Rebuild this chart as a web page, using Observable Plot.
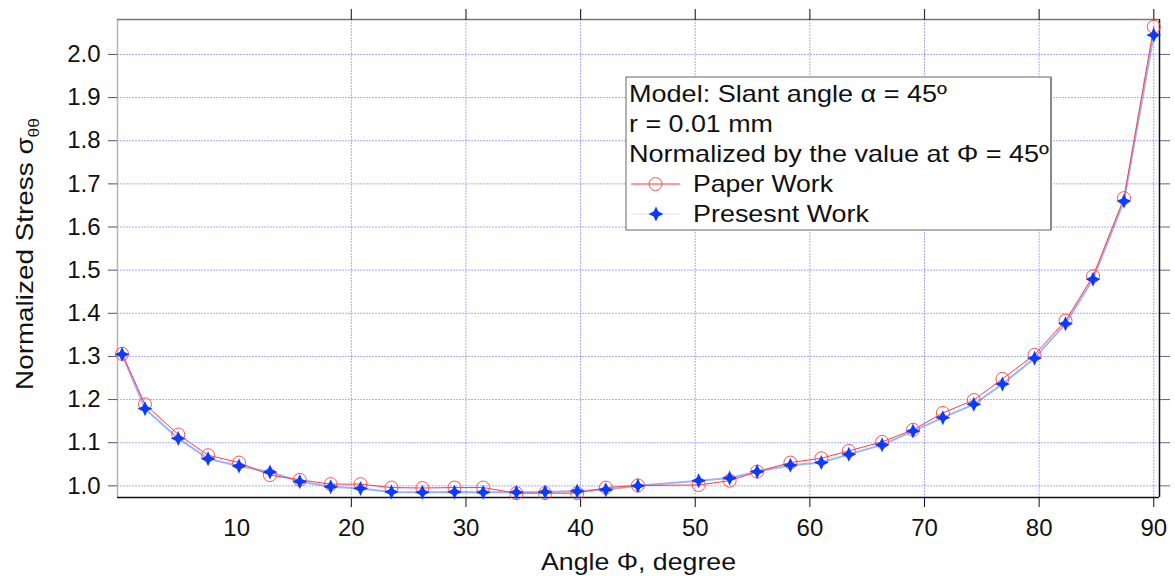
<!DOCTYPE html>
<html>
<head>
<meta charset="utf-8">
<script src="https://cdn.jsdelivr.net/npm/d3@7"></script>
<script src="https://cdn.jsdelivr.net/npm/@observablehq/plot@0.6"></script>
<style>
  html, body { margin: 0; padding: 0; background: #fff; }
  #chart { width: 1175px; height: 576px; }
</style>
</head>
<body>
<div id="chart"></div>
<script>
// ---- data ----
const angle = [0, 2.0, 4.9, 7.5, 10.2, 12.9, 15.5, 18.2, 20.8, 23.5, 26.2, 29.0, 31.5, 34.4, 36.9, 39.7, 42.2, 45.0,
               50.3, 53.0, 55.4, 58.3, 61.0, 63.4, 66.3, 69.0, 71.6, 74.3, 76.8, 79.6, 82.3, 84.7, 87.4, 90.0];
const paperStress = [1.306, 1.189, 1.119, 1.071, 1.054, 1.025, 1.014, 1.004, 1.004, 0.996, 0.995, 0.996, 0.996, 0.983, 0.983, 0.983, 0.996, 1.001,
                     1.002, 1.012, 1.033, 1.054, 1.064, 1.081, 1.102, 1.130, 1.169, 1.199, 1.248, 1.304, 1.383, 1.486, 1.667, 2.064];
const presentStress = [1.305, 1.179, 1.110, 1.063, 1.046, 1.032, 1.010, 0.998, 0.994, 0.986, 0.985, 0.986, 0.985, 0.985, 0.986, 0.988, 0.991, 1.000,
                       1.012, 1.018, 1.033, 1.048, 1.054, 1.073, 1.095, 1.127, 1.158, 1.189, 1.236, 1.296, 1.376, 1.479, 1.660, 2.045];
const seriesNames = ["Paper Work", "Presesnt Work"];
const xTickLabels = [10, 20, 30, 40, 50, 60, 70, 80, 90];
const xTicks = [20, 30, 40, 50, 60, 70, 80, 90];
const yTicks = [1.0, 1.1, 1.2, 1.3, 1.4, 1.5, 1.6, 1.7, 1.8, 1.9, 2.0];
const xDomain = [-0.4, 90.5];
const yDomain = [0.973, 2.081];
const xTitle = "Angle Φ, degree";
const yTitleMain = "Normalized Stress σ";
const yTitleSub = "θθ";
const legendLines = ["Model: Slant angle α = 45º", "r = 0.01 mm", "Normalized by the value at Φ = 45º"];

const data = angle.map((a, i) => ({angle: a, paper: paperStress[i], present: presentStress[i]}));

const FONT = "'Liberation Sans', Arial, Helvetica, sans-serif";
const RED = "#ff3b3b";
const BLUE = "#0a3cff";

const star4 = {
  draw(context, size) {
    const R = Math.sqrt(size / Math.PI);
    const r = R * 0.45;
    for (let i = 0; i < 8; i++) {
      const a = i * Math.PI / 4 - Math.PI / 2;
      const rad = i % 2 ? r : R;
      const x = rad * Math.cos(a), y = rad * Math.sin(a);
      if (i === 0) context.moveTo(x, y); else context.lineTo(x, y);
    }
    context.closePath();
  }
};

const gridStyle = {stroke: "#2a2aff", strokeOpacity: 0.4, strokeDasharray: "2,1", strokeWidth: 1};

const chart = Plot.plot({
  width: 1175,
  height: 576,
  marginLeft: 117,
  marginRight: 16,
  marginTop: 19,
  marginBottom: 79,
  style: {fontFamily: FONT, fontSize: "24px", color: "#111", background: "#fff", overflow: "visible"},
  x: {domain: xDomain},
  y: {domain: yDomain},
  marks: [
    Plot.ruleX(xTicks, gridStyle),
    Plot.ruleY(yTicks, gridStyle),
    // frame lines
    Plot.ruleX([xDomain[0]], {stroke: "#b5b5b5", strokeWidth: 1.5}),
    Plot.ruleY([yDomain[1]], {stroke: "#777", strokeWidth: 1.5}),
    Plot.ruleY([yDomain[0]], {stroke: "#111", strokeWidth: 1.5}),
    Plot.ruleX([xDomain[1]], {stroke: "#111", strokeWidth: 1.5}),
    // axes
    Plot.axisY(yTicks, {anchor: "left", tickSize: 9, tickPadding: 8, tickFormat: d3.format(".1f"), label: null, stroke: "#555", fontSize: 24}),
    Plot.axisY(yTicks, {anchor: "right", tickSize: 10, tickFormat: () => "", label: null, stroke: "#666"}),
    Plot.axisX(xTicks, {anchor: "bottom", tickSize: 10, tickFormat: () => "", label: null, stroke: "#111"}),
    Plot.axisX(xTickLabels, {anchor: "bottom", tickSize: 0, tickPadding: 21, label: null, fontSize: 24}),
    Plot.axisX(xTicks, {anchor: "top", tickSize: 11, tickFormat: () => "", label: null, stroke: "#333", strokeWidth: 1.2}),
    // series
    Plot.line(data, {x: "angle", y: "present", stroke: "#4f74ff", strokeWidth: 2, strokeOpacity: 0.55}),
    Plot.line(data, {x: "angle", y: "paper", stroke: RED, strokeWidth: 1}),
    Plot.dot(data, {x: "angle", y: "paper", r: 6.5, stroke: "#ff5050", fill: "none", strokeWidth: 1}),
    Plot.dot(data, {x: "angle", y: "present", symbol: star4, r: 7.5, fill: BLUE, stroke: "none"})
  ]
});

document.getElementById("chart").appendChild(chart);

const svg = d3.select(chart);

// x axis title
svg.append("text")
  .attr("x", 638.5).attr("y", 570)
  .attr("text-anchor", "middle")
  .attr("font-family", FONT).attr("font-size", 24).attr("fill", "#111")
  .attr("textLength", 195).attr("lengthAdjust", "spacingAndGlyphs")
  .text(xTitle);

// y axis title with subscript
const yt = svg.append("text")
  .attr("transform", "translate(33,254) rotate(-90)")
  .attr("text-anchor", "middle")
  .attr("font-family", FONT).attr("font-size", 24).attr("fill", "#111")
  .attr("textLength", 272).attr("lengthAdjust", "spacingAndGlyphs");
yt.append("tspan").text(yTitleMain);
yt.append("tspan").attr("font-size", 15).attr("dy", 6).text(yTitleSub);

// legend box
const lg = svg.append("g").attr("text-anchor", "start");
lg.append("rect").attr("x", 626).attr("y", 77).attr("width", 425).attr("height", 153)
  .attr("fill", "#fff").attr("stroke", "#666").attr("stroke-width", 1);
lg.append("line").attr("x1", 1051).attr("x2", 1051).attr("y1", 77).attr("y2", 230)
  .attr("stroke", "#888").attr("stroke-width", 2);
const lens = [318, 144, 420];
legendLines.forEach((t, i) => {
  lg.append("text").attr("x", 629).attr("y", 102 + 30 * i)
    .attr("text-anchor", "start")
    .attr("font-family", FONT).attr("font-size", 24).attr("fill", "#111")
    .attr("textLength", lens[i]).attr("lengthAdjust", "spacingAndGlyphs")
    .text(t);
});
// Paper Work entry
lg.append("line").attr("x1", 631).attr("x2", 680).attr("y1", 184).attr("y2", 184).attr("stroke", RED).attr("stroke-width", 1);
lg.append("circle").attr("cx", 655.5).attr("cy", 184).attr("r", 6.5).attr("fill", "none").attr("stroke", "#ff5050");
lg.append("text").attr("x", 693).attr("y", 192).attr("text-anchor", "start")
  .attr("font-family", FONT).attr("font-size", 24).attr("fill", "#111")
  .attr("textLength", 140).attr("lengthAdjust", "spacingAndGlyphs").text(seriesNames[0]);
// Present Work entry
lg.append("line").attr("x1", 631).attr("x2", 680).attr("y1", 214).attr("y2", 214).attr("stroke", "#e8e8f0").attr("stroke-width", 1.5);
lg.append("path").attr("transform", "translate(656,214)")
  .attr("d", d3.symbol().type(star4).size(Math.PI * 7.5 * 7.5)())
  .attr("fill", BLUE);
lg.append("text").attr("x", 693).attr("y", 222).attr("text-anchor", "start")
  .attr("font-family", FONT).attr("font-size", 24).attr("fill", "#111")
  .attr("textLength", 176).attr("lengthAdjust", "spacingAndGlyphs").text(seriesNames[1]);
</script>
</body>
</html>
